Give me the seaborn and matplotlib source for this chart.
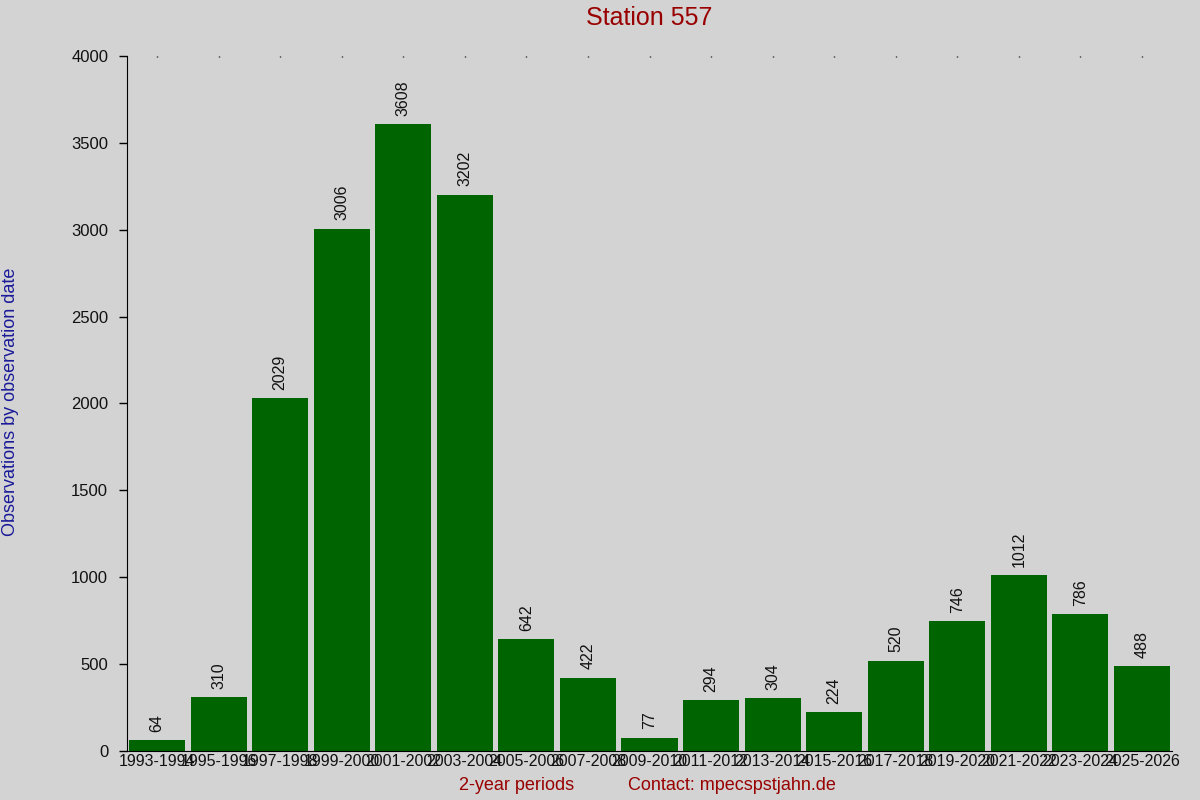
import matplotlib
matplotlib.use("Agg")
import matplotlib.pyplot as plt
import seaborn as sns
import pandas as pd

periods = ["1993-1994", "1995-1996", "1997-1998", "1999-2000", "2001-2002", "2003-2004",
           "2005-2006", "2007-2008", "2009-2010", "2011-2012", "2013-2014", "2015-2016",
           "2017-2018", "2019-2020", "2021-2022", "2023-2024", "2025-2026"]
counts = [64, 310, 2029, 3006, 3608, 3202, 642, 422, 77, 294, 304, 224, 520, 746, 1012, 786, 488]
yticks = [0, 500, 1000, 1500, 2000, 2500, 3000, 3500, 4000]

sns.set_style("ticks")
plt.rcParams['font.family'] = ['Liberation Sans', 'DejaVu Sans']

bg = "#d3d3d3"
fig = plt.figure(figsize=(12, 8), dpi=100, facecolor=bg)
ax = fig.add_axes([127/1200, 49/800, (1172-127)/1200, (751-56)/800])
ax.set_facecolor(bg)

df = pd.DataFrame({"period": periods, "count": counts})
sns.barplot(data=df, x="period", y="count", color="#006400", saturation=1,
            width=0.91, ax=ax, edgecolor="none")

for i, v in enumerate(counts):
    ax.annotate(str(v), (i, v), xytext=(0, 6), textcoords="offset points",
                rotation=90, ha="center", va="bottom", fontsize=11.5, color="#111111")

ax.set_xlim(-0.49, len(periods) - 0.51)
ax.set_ylim(0, 4000)
ax.set_yticks(yticks)
ax.set_yticklabels([str(t) for t in yticks], fontsize=12, color="#111111")
ax.tick_params(axis='y', length=6, width=1, direction='out', pad=7.5, color="black")
ax.tick_params(axis='x', labelsize=11.5, labelcolor="#111111", bottom=False, top=True,
               length=1, width=1, direction='in', pad=2, color="black")
for s in ["top", "right"]:
    ax.spines[s].set_visible(False)
ax.spines["left"].set_color("black")
ax.spines["bottom"].set_color("black")
ax.set_xlabel("")
ax.set_ylabel("")

fig.text(649/1200, 1 - 18/800, "Station 557", ha="center", va="center",
         fontsize=18, color="#990000")
fig.text(11/1200, 0.5 - 2/800, "Observations by observation date", rotation=90,
         ha="center", va="center", fontsize=13, color="#1a1a99")
fig.text(517/1200, 1 - 786/800, "2-year periods", ha="center", va="center",
         fontsize=13, color="#990000")
fig.text(732/1200, 1 - 786/800, "Contact: mpecspstjahn.de", ha="center", va="center",
         fontsize=13, color="#990000")

fig.savefig("out.png", dpi=100, facecolor=bg)
